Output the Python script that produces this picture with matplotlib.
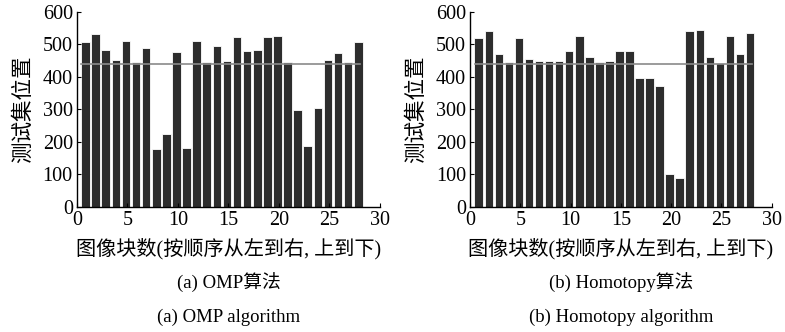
import matplotlib
matplotlib.use("Agg")
import matplotlib.pyplot as plt
import numpy as np

plt.rcParams['font.family'] = ['Liberation Serif', 'Noto Sans CJK SC']
plt.rcParams['mathtext.fontset'] = 'stix'

blocks = list(range(1, 29))
omp_values = [508, 531, 484, 453, 512, 446, 488, 178, 225, 476, 182, 512, 446, 496,
              449, 524, 480, 484, 524, 527, 446, 299, 187, 303, 453, 474, 446, 508]
homotopy_values = [519, 541, 471, 446, 519, 456, 450, 450, 450, 480, 526, 460, 446, 450,
                   480, 480, 398, 398, 372, 102, 90, 541, 545, 460, 443, 526, 471, 536]
true_position = 439
x_ticks = [0, 5, 10, 15, 20, 25, 30]
y_ticks = [0, 100, 200, 300, 400, 500, 600]
xlabel = "图像块数(按顺序从左到右, 上到下)"
ylabel = "测试集位置"
captions_cn = ["(a) OMP算法", "(b) Homotopy算法"]
captions_en = ["(a) OMP algorithm", "(b) Homotopy algorithm"]

fig = plt.figure(figsize=(7.85, 3.32), dpi=100)
axes_pos = [[0.098, 0.377, 0.386, 0.587], [0.599, 0.377, 0.384, 0.587]]
series = [omp_values, homotopy_values]

for i, (pos, vals) in enumerate(zip(axes_pos, series)):
    ax = fig.add_axes(pos)
    xs = np.array(blocks) - 0.15
    ax.bar(xs, vals, width=0.85, color='#2d2d2d', edgecolor='white', linewidth=0.6)
    ax.plot([0.45, 28.0], [true_position, true_position], color='#8a8a8a', linewidth=1.2)
    ax.set_xlim(0, 30)
    ax.set_ylim(0, 600)
    ax.set_xticks(x_ticks)
    ax.set_yticks(y_ticks)
    for s in ['top', 'right']:
        ax.spines[s].set_visible(False)
    for s in ['left', 'bottom']:
        ax.spines[s].set_linewidth(1.0)
    ax.tick_params(direction='in', length=3, labelsize=14.5, pad=3)
    ax.set_ylabel(ylabel, fontsize=15.5, labelpad=6)
    ax.set_xlabel(xlabel, fontsize=14.5, labelpad=6)
    cx = pos[0] + pos[2] / 2
    fig.text(cx, 0.148, captions_cn[i], ha='center', va='center', fontsize=13.5)
    fig.text(cx, 0.045, captions_en[i], ha='center', va='center', fontsize=13.5)

fig.savefig("out.png", dpi=100)
